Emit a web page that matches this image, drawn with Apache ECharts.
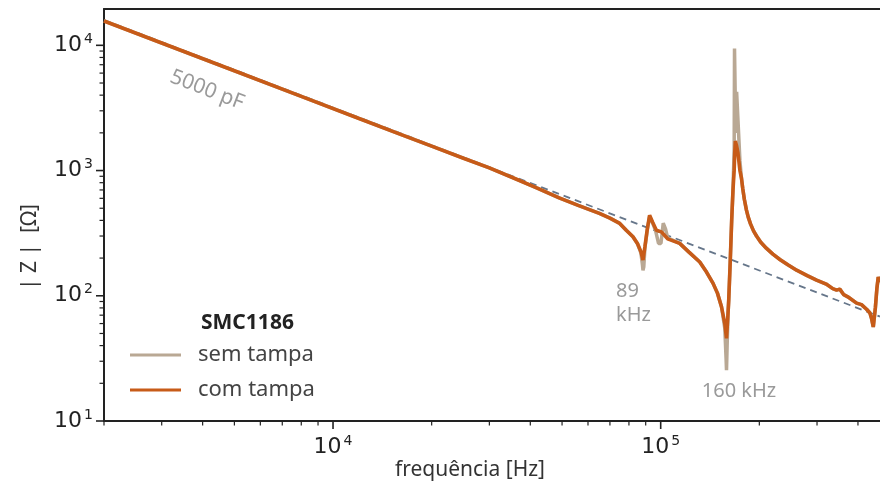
<!DOCTYPE html>
<html><head><meta charset="utf-8">
<script src="https://cdn.jsdelivr.net/npm/echarts@6/dist/echarts.min.js"></script>
<style>html,body{margin:0;padding:0;background:#fff}#c{width:880px;height:486px}</style>
</head><body><div id="c"></div>
<script>
// ---- data ----
const freqCom = [2000,3000,5000,8000,12000,16000,20000,25000,30000,36000,42000,49000,56000,65000,70000,75000,78500,82300,85000,87000,88300,89500,91000,92500,94500,97000,100500,105000,114300,122000,131600,138000,144500,149000,153300,156900,158800,160200,161300,163000,164700,166200,167600,168300,169000,170200,172000,174500,176400,178000,180000,182700,185000,188000,192000,196100,202000,210000,220000,231000,245000,260000,280000,299000,320000,335000,344300,352000,362000,375000,396200,410000,425000,435100,440000,445400,452000,457000,461300,467000];
const zCom = [15650,10430,6260,3910,2605,1955,1565,1255,1050,860,725,605,527,455,417,378,334,296,260,225,193,246,340,440,387,334,324,285,262,223,186,154.5,125.6,105,81.7,60.2,45.7,66.4,92.4,186,402,698,1007,1400,1720,1600,1400,1000,870,720,590,483,425,375,330,300,268,240,215,195,176,160,145,133.5,124,114,111,113,102,97,87.4,85,78,72.8,66,56.3,80,115,141,128];

const freqSem = [2000,3000,5000,8000,12000,16000,20000,25000,30000,36000,42000,49000,56000,65000,70000,75000,78500,82300,85000,87000,88000,88300,88800,89500,91000,92500,94500,96500,98500,100200,101800,103500,105000,114300,122000,131600,138000,144500,149000,153300,156900,158300,158800,159500,160500,161300,163000,164700,166200,167600,168000,168600,169500,170500,172500,174500,176400,178000,180000,182700,185000,188000,192000,196100,202000,210000,220000,231000,245000,260000,280000,299000,320000,335000,344300,352000,362000,375000,396200,410000,425000,435100,440000,445400,452000,457000,461300,467000];
const zSem = [15650,10430,6260,3910,2605,1955,1565,1255,1050,860,725,605,527,455,417,378,334,296,260,220,175,160,170,240,335,430,380,330,262,262,380,340,290,262,223,186,154.5,125.6,105,81.7,55,32,25.5,40,70,92,186,402,700,1500,9430,9430,2000,4246,4246,1200,870,720,590,483,425,375,330,300,268,240,215,195,176,160,145,133.5,124,114,111,113,102,97,87.4,85,78,72.8,66,56.3,80,115,141,128];

const capFreq = [2000, 467000];      // 5000 pF reference line end points
const capZ = [15915, 68.2];

const xMajorTicks = [10000, 100000];
const xMinorTicks = [2000,3000,4000,5000,6000,7000,8000,9000,20000,30000,40000,50000,60000,70000,80000,90000,200000,300000,400000];
const yMajorTicks = [10, 100, 1000, 10000];
const yMinorTicks = [20,30,40,50,60,70,80,90,200,300,400,500,600,700,800,900,2000,3000,4000,5000,6000,7000,8000,9000];

const X_MIN = 2000, X_MAX = 467000, Y_MIN = 10, Y_MAX = 19500;

// ---- build ----
const pair = (xs, ys) => xs.map((x, i) => [x, ys[i]]);
const tickData = [];
xMajorTicks.forEach(v => tickData.push([v, Y_MIN, 0, 8, 1.6]));
xMinorTicks.forEach(v => tickData.push([v, Y_MIN, 0, 4.5, 1.2]));
yMajorTicks.forEach(v => tickData.push([X_MIN, v, 1, 8, 1.6]));
yMinorTicks.forEach(v => tickData.push([X_MIN, v, 1, 4.5, 1.2]));

const SANS = '"Noto Sans", sans-serif';
const TICKFONT = '"DejaVu Sans", sans-serif';
const fmt = v => {
  const e = Math.log10(v);
  if (Math.abs(e - Math.round(e)) > 1e-6) return '';
  return '{b|10}{s|' + Math.round(e) + '}';
};
const rich = {
  b: {fontFamily: TICKFONT, fontSize: 22, lineHeight: 26, color: '#222'},
  s: {fontFamily: TICKFONT, fontSize: 14, lineHeight: 14, verticalAlign: 'top', color: '#222', padding: [0,0,0,2]}
};

const chart = echarts.init(document.getElementById('c'), null, {renderer: 'canvas'});
chart.setOption({
  animation: false,
  backgroundColor: '#fff',
  grid: {left: 104, right: 0, top: 9, bottom: 65, containLabel: false},
  title: {text: 'SMC1186', left: 196, top: 308,
    textStyle: {fontFamily: SANS, fontSize: 21, fontWeight: 'bold', color: '#222'}},
  legend: {
    data: ['sem tampa', 'com tampa'], orient: 'vertical', left: 125, top: 339,
    itemWidth: 51, itemHeight: 3, icon: 'rect', itemGap: 13,
    textStyle: {fontFamily: SANS, fontSize: 22, color: '#444', padding: [0,0,0,12]}
  },
  xAxis: [{
    type: 'log', logBase: 10, min: X_MIN, max: X_MAX,
    axisLine: {show: true, lineStyle: {color: '#222', width: 2}},
    axisTick: {show: false}, splitLine: {show: false}, minorTick: {show: false},
    axisLabel: {formatter: fmt, rich: rich, margin: 13, showMinLabel: false, showMaxLabel: false}
  }, {
    type: 'log', logBase: 10, min: X_MIN, max: X_MAX, position: 'top',
    axisLine: {show: true, onZero: false, lineStyle: {color: '#222', width: 2}},
    axisTick: {show: false}, axisLabel: {show: false}, splitLine: {show: false}
  }],
  yAxis: {
    type: 'log', logBase: 10, min: Y_MIN, max: Y_MAX,
    axisLine: {show: true, lineStyle: {color: '#222', width: 2}},
    axisTick: {show: false}, splitLine: {show: false}, minorTick: {show: false},
    axisLabel: {formatter: fmt, rich: rich, margin: 11, showMaxLabel: false}
  },
  graphic: [
    {type: 'text', x: 207, y: 90, rotation: -0.365, z: 50,
      style: {text: '5000 pF', fontFamily: SANS, fontSize: 21, fill: '#9a9a9a', align: 'center', verticalAlign: 'middle'}},
    {type: 'text', x: 616, y: 279, z: 50,
      style: {text: '89\nkHz', fontFamily: SANS, fontSize: 20, lineHeight: 24, fill: '#9a9a9a', align: 'left', verticalAlign: 'top'}},
    {type: 'text', x: 739, y: 391, z: 50,
      style: {text: '160 kHz', fontFamily: SANS, fontSize: 20, fill: '#9a9a9a', align: 'center', verticalAlign: 'middle'}},
    {type: 'text', x: 470, y: 470, z: 50,
      style: {text: 'frequência [Hz]', fontFamily: SANS, fontSize: 21, fill: '#333', align: 'center', verticalAlign: 'middle'}},
    {type: 'text', x: 30, y: 247, rotation: Math.PI / 2, z: 50,
      style: {text: '| Z |  [Ω]', fontFamily: SANS, fontSize: 21, fill: '#333', align: 'center', verticalAlign: 'middle'}}
  ],
  series: [
    {name: '5000 pF', type: 'line', data: pair(capFreq, capZ), symbol: 'none', z: 1,
      lineStyle: {color: '#66768a', width: 1.8, type: [7, 5]}, silent: true},
    {name: 'sem tampa', type: 'line', data: pair(freqSem, zSem), symbol: 'none', showSymbol: false, z: 2,
      itemStyle: {color: '#b9a894'}, lineStyle: {color: '#b9a894', width: 3.5}, silent: true},
    {name: 'com tampa', type: 'line', data: pair(freqCom, zCom), symbol: 'none', showSymbol: false, z: 3,
      itemStyle: {color: '#c75b18'}, lineStyle: {color: '#c75b18', width: 3.6}, silent: true},
    {name: 'ticks', type: 'custom', data: tickData, clip: false, z: 10, silent: true,
      encode: {x: 0, y: 1},
      renderItem: (params, api) => {
        const p = api.coord([api.value(0), api.value(1)]);
        const len = api.value(3), w = api.value(4);
        const shape = api.value(2) === 0
          ? {x1: p[0], y1: p[1], x2: p[0], y2: p[1] + len}
          : {x1: p[0] - len, y1: p[1], x2: p[0], y2: p[1]};
        return {type: 'line', shape: shape, style: {stroke: '#222', lineWidth: w}};
      }}
  ]
});
</script></body></html>
